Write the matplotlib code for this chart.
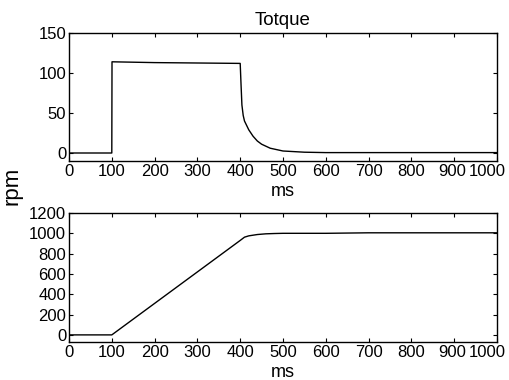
import numpy as np
import matplotlib.pyplot as plt
from matplotlib.transforms import ScaledTranslation

plt.rcParams['font.family'] = ['Liberation Sans', 'DejaVu Sans']

# torque response
torque_t = [0, 100, 100.5, 150, 200, 300, 400, 402, 404, 407, 410, 420, 430, 440,
            450, 470, 500, 550, 600, 700, 1000]
torque_v = [0, 0, 114, 113.5, 113, 112.5, 112, 85, 60, 47, 40, 29, 21, 15,
            11, 6, 2.5, 1, 0.5, 0.5, 0.5]

# speed response
speed_t = [0, 100, 150, 200, 250, 300, 350, 400, 410, 420, 440, 460, 480, 500,
           600, 700, 1000]
speed_v = [0, 0, 155, 310, 465, 620, 775, 930, 962, 975, 988, 995, 998, 1000,
           1000, 1005, 1005]

xticks = list(range(0, 1001, 100))

fig = plt.figure(figsize=(5.09, 3.8), dpi=100)
ax1 = fig.add_axes([69/509, 1 - 161/380, 428/509, 128/380])
ax2 = fig.add_axes([69/509, 1 - 342/380, 428/509, 129/380])

ax1.plot(torque_t, torque_v, color='black', lw=1)
ax1.set_xlim(0, 1000)
ax1.set_ylim(-10, 150)
ax1.set_yticks([0, 50, 100, 150])
ax1.set_title('Totque', fontsize=13.5, pad=6)

ax2.plot(speed_t, speed_v, color='black', lw=1)
ax2.set_xlim(0, 1000)
ax2.set_ylim(-70, 1200)
ax2.set_yticks(range(0, 1201, 200))

for ax in (ax1, ax2):
    ax.set_xticks(xticks)
    ax.set_xlabel('ms', fontsize=13, labelpad=3)
    ax.tick_params(direction='in', top=True, right=True, labelsize=12,
                   length=3, pad=2)
    for s in ax.spines.values():
        s.set_linewidth(1)
    # the last two labels sit a bit left of their ticks, as in the original
    labels = ax.get_xticklabels()
    for lab, dx in ((labels[-2], -2), (labels[-1], -10)):
        lab.set_transform(lab.get_transform() +
                          ScaledTranslation(dx/100, 0, fig.dpi_scale_trans))

fig.text(12/509, 1 - 186/380, 'rpm', rotation=90, fontsize=16,
         ha='center', va='center')

fig.savefig('out.png', dpi=100)
